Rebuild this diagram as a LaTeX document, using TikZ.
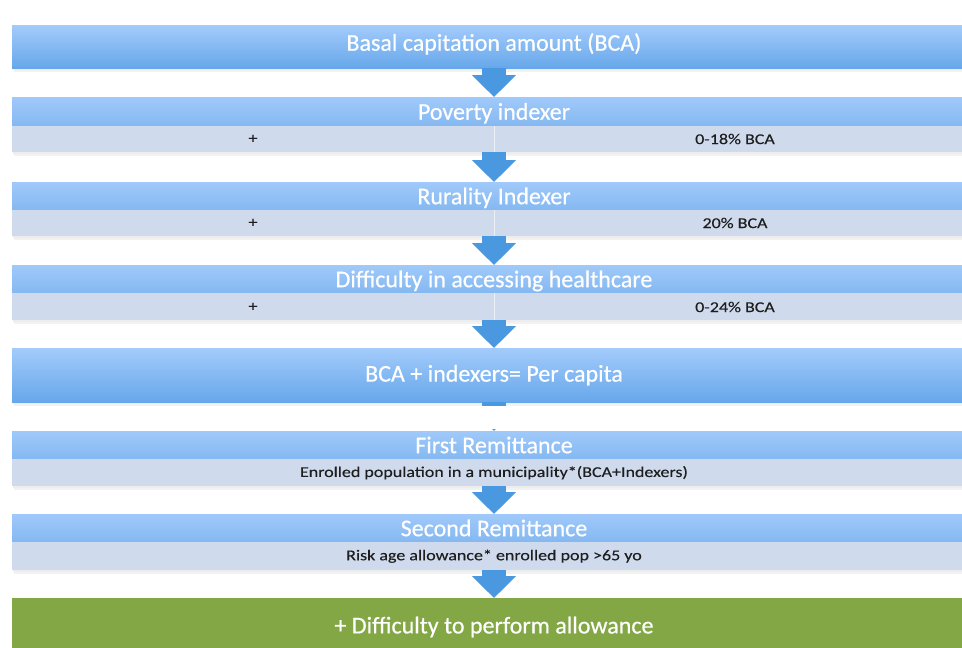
\documentclass[tikz,border=0pt]{standalone}
\usepackage{fontspec}
\setmainfont{Carlito}
\newfontfamily\headfont[FakeBold=0.5]{Carlito}
\newfontfamily\subfont[FakeStretch=1.2,FakeBold=0.2]{Carlito}
\usetikzlibrary{arrows.meta}
\definecolor{hdtop}{HTML}{A3CBFB}
\definecolor{hdbot}{HTML}{66A7EA}
\definecolor{hdtop2}{HTML}{A0C9FA}
\definecolor{hdbot2}{HTML}{84B8F1}
\definecolor{subfill}{HTML}{CFDAEC}
\definecolor{greenfill}{HTML}{82A744}
\definecolor{arrowc}{HTML}{4A98DF}
\definecolor{subtext}{HTML}{1E1E1E}
\tikzset{
  bigbox/.style={rectangle, minimum width=964pt, inner sep=0pt, anchor=north,
    top color=hdtop, bottom color=hdbot, draw=none, text=white,
    font=\headfont\fontsize{24}{26}\selectfont},
  headbox/.style={rectangle, minimum width=964pt, minimum height=28pt, inner sep=0pt, anchor=north,
    top color=hdtop2, bottom color=hdbot2, draw=none, text=white,
    text height=18pt, text depth=2pt,
    font=\headfont\fontsize{24}{26}\selectfont},
  subbox/.style={rectangle, minimum width=964pt, minimum height=26pt, inner sep=0pt, anchor=north,
    fill=subfill, draw=none, text=subtext, font=\subfont\fontsize{15}{17}\selectfont},
  greenbox/.style={rectangle, minimum width=964pt, minimum height=62pt, inner sep=0pt, anchor=north,
    fill=greenfill, draw=none},
  flowarrow/.style={draw=arrowc, line width=24pt, -{Triangle[width=43pt,length=22pt]}},
  shadeA/.style={fill=black, opacity=0.07},
  shadeB/.style={fill=black, opacity=0.05},
  sublabel/.style={text=subtext, font=\subfont\fontsize{15}{17}\selectfont, inner sep=0pt},
  divider/.style={draw=white, line width=0.6pt, opacity=0.6},
}
\begin{document}
\begin{tikzpicture}[x=1pt,y=-1pt]
\useasboundingbox (0,0) rectangle (962,648);
\clip (0,0) rectangle (962,648);
% soft shadows
\foreach \b in {68,152,236,320,402,486,570}{
  \fill[shadeA] (13,\b) rectangle (978,\b+2);
  \fill[shadeB] (14,\b+2) rectangle (978,\b+4);
}
% box 1
\node[bigbox, minimum height=43pt, text height=14pt, text depth=6pt] (b1) at (494,25) {Basal capitation amount (BCA)};
% box 2
\node[headbox, minimum height=29pt] (h2) at (494,97) {Poverty indexer};
\node[subbox] (s2) at (494,126) {};
\node[sublabel] (p2) at (253,139) {+};
\node[sublabel] (v2) at (735,139) {0-18\% BCA};
% box 3
\node[headbox] (h3) at (494,182) {Rurality Indexer};
\node[subbox] (s3) at (494,210) {};
\node[sublabel] (p3) at (253,223) {+};
\node[sublabel] (v3) at (735,223) {20\% BCA};
% box 4
\node[headbox] (h4) at (494,265) {Difficulty in accessing healthcare};
\node[subbox, minimum height=27pt] (s4) at (494,293) {};
\node[sublabel] (p4) at (253,307) {+};
\node[sublabel] (v4) at (735,307) {0-24\% BCA};
% box 5
\node[bigbox, minimum height=54pt] (b5) at (494,348) {BCA + indexers= Per capita};
% box 6
\node[headbox] (h6) at (494,431) {First Remittance};
\node[subbox, minimum height=27pt] (s6) at (494,459) {Enrolled population in a municipality*(BCA+Indexers)};
% box 7
\node[headbox] (h7) at (494,514) {Second Remittance};
\node[subbox, minimum height=28pt] (s7) at (494,542) {Risk age allowance* enrolled pop >65 yo};
% green
\node[greenbox] (g8) at (494,598) {};
\node[text=white, font=\headfont\fontsize{24}{26}\selectfont, inner sep=0pt] (g8t) at (494,627) {+ Difficulty to perform allowance};
% dividers in sub rows
\foreach \s in {s2,s3,s4}{
  \draw[divider] (\s.north) -- (\s.south);
}
% arrows
\draw[flowarrow] (b1.south) -- (h2.north);
\draw[flowarrow] (s2.south) -- (h3.north);
\draw[flowarrow] (s3.south) -- (h4.north);
\draw[flowarrow] (s4.south) -- (b5.north);
\draw[flowarrow] (b5.south) -- (h6.north);
\draw[flowarrow] (s6.south) -- (h7.north);
\draw[flowarrow] (s7.south) -- (g8.north);
% white patch over the fifth arrow
\node[fill=white, minimum width=86pt, minimum height=23pt, inner sep=0pt, anchor=north] (patch) at (495,406) {};
\end{tikzpicture}
\end{document}
